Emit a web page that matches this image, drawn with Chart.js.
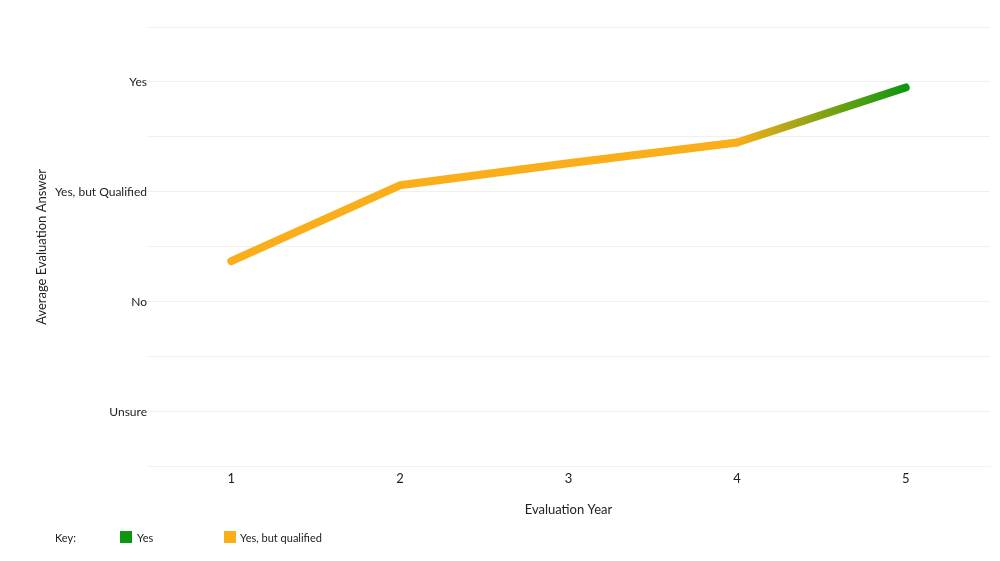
<!DOCTYPE html>
<html>
<head>
<meta charset="utf-8">
<script src="https://cdn.jsdelivr.net/npm/chart.js@4.4.1/dist/chart.umd.min.js"></script>
<style>
  html, body { margin: 0; padding: 0; background: #fff; }
  #wrap { position: relative; width: 1000px; height: 561px; }
  #key {
    position: absolute; left: 0; top: 529px; width: 1000px; height: 18px;
    font-family: Lato, "Noto Sans", sans-serif; font-size: 11px; color: #222;
  }
  #key span { position: absolute; top: 2px; }
  #key i { position: absolute; top: 2px; width: 12px; height: 12px; }
</style>
</head>
<body>
<div id="wrap">
  <canvas id="myChart" width="1000" height="561"></canvas>
  <div id="key">
    <span style="left:55px">Key:</span>
    <i style="left:120px;background:#0e970e"></i><span style="left:137px">Yes</span>
    <i style="left:224px;background:#f9ae1a"></i><span style="left:240px">Yes, but qualified</span>
  </div>
</div>
<script>
// 評估年份與平均答案
const years = ['1', '2', '3', '4', '5'];
const avgAnswer = [2.37, 3.06, 3.26, 3.45, 3.95];

// y 軸標籤
const answerValues = [1, 2, 3, 4];
const answerLabels = ['Unsure', 'No', 'Yes, but Qualified', 'Yes'];

const orange = '#f9ae1a';
const green = '#0e970e';

document.addEventListener('DOMContentLoaded', function () {
    const ctx = document.getElementById('myChart').getContext('2d');

    // 最後一段從橘色漸變到綠色
    function lastSegmentColor(c) {
        if (c.p1DataIndex !== years.length - 1) return orange;
        const g = ctx.createLinearGradient(c.p0.x, 0, c.p1.x, 0);
        g.addColorStop(0, orange);
        g.addColorStop(1, green);
        return g;
    }

    new Chart(ctx, {
        type: 'line',
        data: {
            labels: years,
            datasets: [{
                label: 'Average Evaluation Answer',
                data: avgAnswer,
                borderColor: orange,
                borderWidth: 8,
                borderCapStyle: 'round',
                borderJoinStyle: 'round',
                pointRadius: 0,
                tension: 0,
                segment: { borderColor: lastSegmentColor }
            }]
        },
        options: {
            responsive: false,
            animation: false,
            layout: { padding: { top: 27, right: 10, bottom: 43, left: 0 } },
            plugins: {
                legend: { display: false },
                tooltip: { enabled: false }
            },
            scales: {
                x: {
                    offset: true,
                    grid: { display: false, drawTicks: false },
                    border: { display: true, color: '#f2f2f2' },
                    ticks: {
                        color: '#222',
                        padding: 4,
                        font: { family: 'Lato', size: 13 }
                    },
                    title: {
                        display: true,
                        text: 'Evaluation Year',
                        color: '#222',
                        padding: { top: 12, bottom: 0 },
                        font: { family: 'Lato', size: 13 }
                    }
                },
                y: {
                    min: 0.5,
                    max: 4.5,
                    afterFit: function (scale) { scale.width = 147; },
                    grid: { color: '#f0f0f0', drawTicks: false },
                    border: { display: false },
                    ticks: {
                        stepSize: 0.5,
                        padding: 0,
                        color: '#222',
                        font: { family: 'Lato', size: 12 },
                        callback: function (v) {
                            const i = answerValues.indexOf(v);
                            return i >= 0 ? answerLabels[i] : '';
                        }
                    },
                    title: {
                        display: true,
                        text: 'Average Evaluation Answer',
                        color: '#222',
                        padding: { top: 34, bottom: 0 },
                        font: { family: 'Lato', size: 13 }
                    }
                }
            }
        }
    });
});
</script>
</body>
</html>
